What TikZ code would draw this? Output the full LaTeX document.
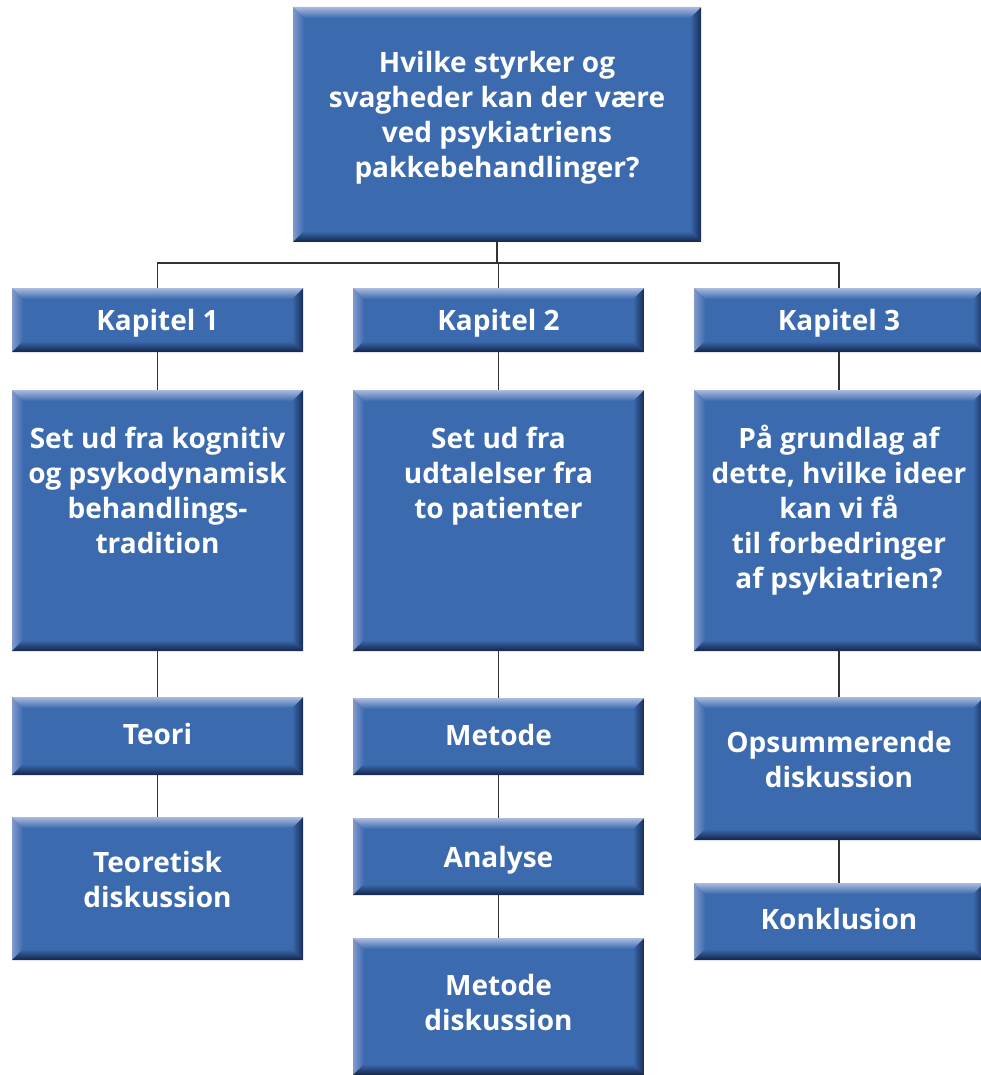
\documentclass[tikz,border=0pt]{standalone}
\usepackage{fontspec}
\newfontfamily\boxfamily{Open Sans}
\usetikzlibrary{calc}
\definecolor{boxblue}{RGB}{59,107,174}
\definecolor{bevtop}{RGB}{172,186,222}
\definecolor{bevleft}{RGB}{130,153,205}
\definecolor{bevright}{RGB}{24,44,88}
\definecolor{bevbot}{RGB}{20,36,74}
\definecolor{linegray}{RGB}{50,50,50}
\newcommand{\boxcontent}[4]{\parbox[b][#2pt][t]{#1pt}{\centering\rule{0pt}{#3pt}#4}}
\tikzset{
  bbox/.style={fill=boxblue, inner sep=0pt, outer sep=0pt, anchor=north west,
    text=white, font=\boxfamily\bfseries\fontsize{28}{35}\selectfont,
    path picture={
      \coordinate (A) at (path picture bounding box.north west);
      \coordinate (B) at (path picture bounding box.north east);
      \coordinate (C) at (path picture bounding box.south east);
      \coordinate (D) at (path picture bounding box.south west);
      \shade[left color=bevleft, right color=boxblue] (A) -- ($(A)+(11,11)$) -- ($(D)+(11,-11)$) -- (D) -- cycle;
      \shade[left color=boxblue, right color=bevright] (B) -- (C) -- ($(C)+(-11,-11)$) -- ($(B)+(-11,11)$) -- cycle;
      \shade[top color=bevtop, bottom color=boxblue] (A) -- (B) -- ($(B)+(-11,11)$) -- ($(A)+(11,11)$) -- cycle;
      \shade[top color=boxblue, bottom color=bevbot] (D) -- (C) -- ($(C)+(-11,-11)$) -- ($(D)+(11,-11)$) -- cycle;
    }},
  conn/.style={draw=linegray, line width=1.1pt}
}
\begin{document}
\begin{tikzpicture}[x=1pt,y=-1pt]
\useasboundingbox (0,0) rectangle (981,1075);
% top
\node[bbox] (top) at (293,7) {\boxcontent{408}{235}{66}{Hvilke styrker og\\svagheder kan der være\\ved psykiatriens\\pakkebehandlinger?}};
% chapters
\node[bbox] (k1) at (12,288) {\boxcontent{291}{64}{42}{Kapitel 1}};
\node[bbox] (k2) at (353,288) {\boxcontent{291}{64}{42}{Kapitel 2}};
\node[bbox] (k3) at (694,288) {\boxcontent{290}{64}{42}{Kapitel 3}};
% big boxes
\node[bbox] (b1) at (12,390) {\boxcontent{291}{261}{58}{Set ud fra kognitiv\\og psykodynamisk\\behandlings-\\tradition}};
\node[bbox] (b2) at (353,390) {\boxcontent{291}{261}{58}{Set ud fra\\udtalelser fra\\to patienter}};
\node[bbox] (b3) at (694,390) {\boxcontent{290}{261}{58}{På grundlag af\\dette, hvilke ideer\\kan vi få\\til forbedringer\\af psykiatrien?}};
% column 1
\node[bbox] (t1) at (12,697) {\boxcontent{291}{78}{47}{Teori}};
\node[bbox] (t2) at (12,817) {\boxcontent{291}{143}{55}{Teoretisk\\diskussion}};
% column 2
\node[bbox] (m1) at (353,698) {\boxcontent{291}{77}{47}{Metode}};
\node[bbox] (m2) at (353,818) {\boxcontent{291}{77}{49}{Analyse}};
\node[bbox] (m3) at (353,938) {\boxcontent{291}{137}{57}{Metode\\diskussion}};
% column 3
\node[bbox] (o1) at (694,697) {\boxcontent{290}{143}{55}{Opsummerende\\diskussion}};
\node[bbox] (o2) at (694,883) {\boxcontent{290}{77}{46}{Konklusion}};
% connectors
\coordinate (hl) at (158,263);
\draw[conn] (top.south) -- (top.south |- hl);
\draw[conn] (k1.north) -- (k1.north |- hl) -- (k3.north |- hl) -- (k3.north);
\draw[conn] (k2.north) -- (k2.north |- hl);
\draw[conn] (k1.south) -- (b1.north);
\draw[conn] (b1.south) -- (t1.north);
\draw[conn] (t1.south) -- (t2.north);
\draw[conn] (k2.south) -- (b2.north);
\draw[conn] (b2.south) -- (m1.north);
\draw[conn] (m1.south) -- (m2.north);
\draw[conn] (m2.south) -- (m3.north);
\draw[conn] (k3.south) -- (b3.north);
\draw[conn] (b3.south) -- (o1.north);
\draw[conn] (o1.south) -- (o2.north);
\end{tikzpicture}
\end{document}
